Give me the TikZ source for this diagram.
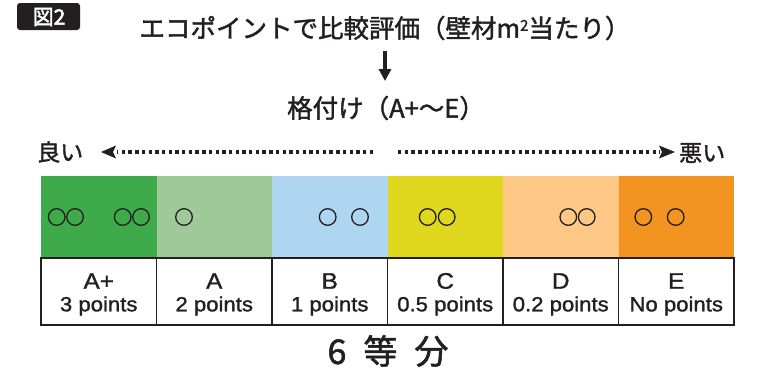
\documentclass[tikz,border=0pt]{standalone}
\usepackage{fontspec}
\newfontfamily\jp{Noto Sans CJK JP}[FakeBold=1.6,AutoFakeBold=1.6]
\newfontfamily\jpb{Noto Sans CJK JP}[FakeBold=2.2]
\newfontfamily\lat{Liberation Sans}[FakeStretch=1.08,FakeBold=1.4]
\usetikzlibrary{arrows.meta}
\definecolor{cAp}{HTML}{3FAA4A}
\definecolor{cA}{HTML}{9FC999}
\definecolor{cB}{HTML}{AED6F1}
\definecolor{cC}{HTML}{DFD81F}
\definecolor{cD}{HTML}{FDC885}
\definecolor{cE}{HTML}{F39322}
\definecolor{ink}{HTML}{231F20}
\begin{document}
\begin{tikzpicture}[x=1pt,y=-1pt,
  jptext/.style={inner sep=0pt,text=ink,font=\jp\fontsize{25.5}{29}\selectfont},
  side/.style={inner sep=0pt,text=ink,font=\jp\fontsize{23}{27}\selectfont},
  grade/.style={inner sep=0pt,text=ink,font=\lat\fontsize{22.5}{26}\selectfont},
  pts/.style={inner sep=0pt,text=ink,font=\lat\fontsize{20.5}{24}\selectfont},
  cellbox/.style={draw=ink,line width=1.2pt},
  circ/.style={draw=ink,line width=1.3pt},
  dots/.style={draw=ink,line width=3.6pt,dash pattern=on 3.4pt off 3.3pt}]
\useasboundingbox (0,0) rectangle (763,375);
% badge
\fill[ink,rounded corners=3pt] (17,3) rectangle (80,30);
\node[inner sep=0pt,text=white,font=\jpb\fontsize{21}{24}\selectfont] (badge) at (49,17) {図2};
% title
\node[jptext] (title) at (385,28) {エコポイントで比較評価（壁材m\raisebox{0.5ex}{\fontsize{15}{17}\selectfont 2}当たり）};
\node[jptext] (rating) at (386,108) {格付け（A+〜E）};
\coordinate (dtop) at (385,51);
\coordinate (dbot) at (385,81);
\draw[ink,line width=3.6pt,-{Triangle[length=12pt 0,width=12pt 0]}] (dtop) -- (dbot);
% good / bad
\node[side,anchor=west] (good) at (37,152) {良い};
\node[side,anchor=west] (bad) at (679,153) {悪い};
\coordinate (lstart) at (373,152);
\coordinate (ltip) at (101,152);
\coordinate (rstart) at (398,152);
\coordinate (rtip) at (675,152);
\draw[dots] (lstart) -- (117,152);
\fill[ink] (ltip) -- (116,145.5) -- (113,152) -- (116,158.5) -- cycle;
\draw[dots] (rstart) -- (660,152);
\fill[ink] (rtip) -- (659,145.5) -- (662,152) -- (659,158.5) -- cycle;
% colour bar
\foreach \i/\c in {0/cAp,1/cA,2/cB,3/cC,4/cD,5/cE}{
  \fill[\c] ({41+115.5*\i},176) rectangle ({41+115.5*(\i+1)},258);
}
% circles
\foreach \x in {56.7,75,122.7,141,184,327.7,360,427.7,446.7,568.3,586.7,643.3,675.7}{
  \draw[circ] (\x,217) circle (8.3);
}
% table
\foreach \i/\g/\p in {0/A+/3 points,1/A/2 points,2/B/1 points,3/C/0.5 points,4/D/0.2 points,5/E/No points}{
  \draw[cellbox] ({41+115.5*\i},258) rectangle ({41+115.5*(\i+1)},325);
  \node[grade] (g\i) at ({98.75+115.5*\i},281) {\g};
  \node[pts] (p\i) at ({98.75+115.5*\i},306) {\p};
}
\node[inner sep=0pt,text=ink,font=\jp\fontsize{34}{38}\selectfont] (six) at (388,351) {6\hspace{0.5em}等\hspace{0.5em}分};
\end{tikzpicture}
\end{document}
